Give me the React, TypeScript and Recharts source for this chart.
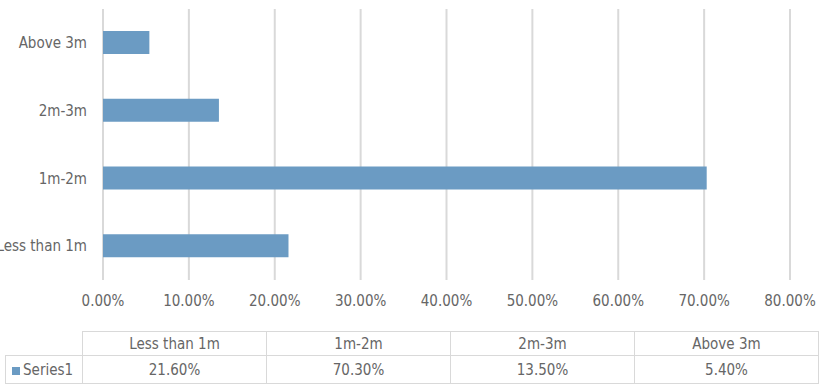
import React from "react";
import { BarChart, Bar, XAxis, YAxis, CartesianGrid } from "recharts";

const categories = ["Less than 1m", "1m-2m", "2m-3m", "Above 3m"];
const series1 = [21.6, 70.3, 13.5, 5.4];
const xTicks = [0, 10, 20, 30, 40, 50, 60, 70, 80];

const data = categories.map((name, i) => ({ name, Series1: series1[i] }));

const FONT = "'Liberation Sans Narrow', 'DejaVu Sans Condensed', 'Roboto', sans-serif";
const TEXT = "#666666";
const GRID = "#d9d9d9";
const BAR = "#6b9bc3";

const pct = (v: number) => `${v.toFixed(2)}%`;

const cell: React.CSSProperties = {
  border: `1px solid ${GRID}`,
  textAlign: "center",
  padding: 0,
  fontWeight: 300,
};

export default function App() {
  return (
    <div style={{ position: "absolute", left: 0, top: 0, width: 831, height: 392, background: "#fff", fontFamily: FONT }}>
      <BarChart
        width={831}
        height={320}
        data={data}
        layout="vertical"
        margin={{ top: 9, right: 41, left: 0, bottom: 0 }}
        barSize={23}
      >
        <CartesianGrid horizontal={false} stroke={GRID} strokeWidth={2} />
        <XAxis
          type="number"
          domain={[0, 80]}
          ticks={xTicks}
          tickFormatter={pct}
          axisLine={false}
          tickLine={false}
          tickSize={0}
          tickMargin={15}
          height={40}
          tick={{ fill: TEXT, fontSize: 15, fontFamily: FONT }}
        />
        <YAxis
          type="category"
          dataKey="name"
          reversed
          width={103}
          axisLine={false}
          tickLine={false}
          tickSize={0}
          tickMargin={16}
          tick={{ fill: TEXT, fontSize: 15, fontFamily: FONT }}
        />
        <Bar dataKey="Series1" fill={BAR} isAnimationActive={false} />
      </BarChart>
      <table
        style={{
          position: "absolute",
          left: 5,
          top: 331,
          width: 813,
          borderCollapse: "collapse",
          tableLayout: "fixed",
          color: TEXT,
          fontSize: 15,
          fontFamily: FONT,
        }}
      >
        <colgroup>
          <col style={{ width: 77 }} />
          {categories.map((c) => (
            <col key={c} style={{ width: 184 }} />
          ))}
        </colgroup>
        <tbody>
          <tr style={{ height: 24 }}>
            <td style={{ ...cell, border: "none", borderRight: `1px solid ${GRID}`, borderBottom: `1px solid ${GRID}` }} />
            {categories.map((c) => (
              <td key={c} style={cell}>{c}</td>
            ))}
          </tr>
          <tr style={{ height: 28 }}>
            <td style={{ ...cell, textAlign: "left", paddingLeft: 6, whiteSpace: "nowrap" }}>
              <span style={{ display: "inline-block", width: 8, height: 8, background: BAR, marginRight: 3 }} />
              Series1
            </td>
            {series1.map((v, i) => (
              <td key={categories[i]} style={cell}>{pct(v)}</td>
            ))}
          </tr>
        </tbody>
      </table>
    </div>
  );
}
